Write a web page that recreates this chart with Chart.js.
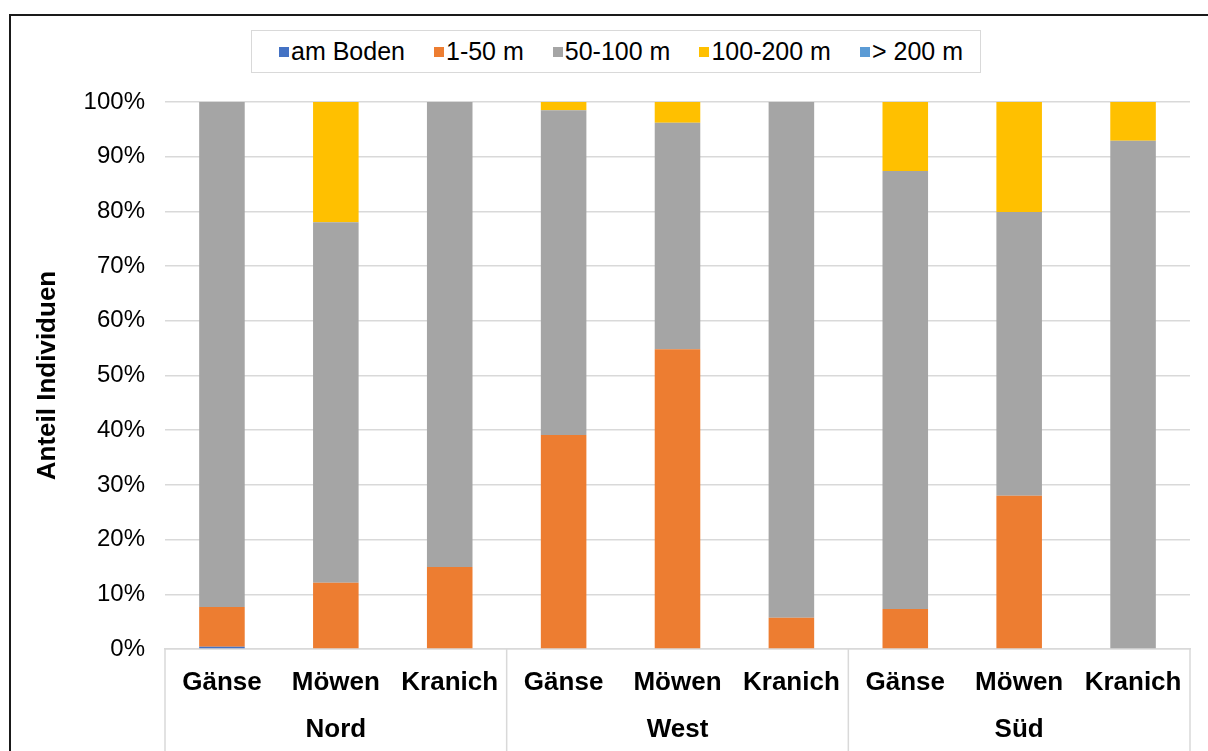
<!DOCTYPE html>
<html>
<head>
<meta charset="utf-8">
<script src="https://cdn.jsdelivr.net/npm/chart.js@4.4.1/dist/chart.umd.min.js"></script>
<style>
  html, body { margin: 0; padding: 0; background: #fff; }
  #wrap { position: relative; width: 1208px; height: 751px; overflow: hidden; font-family: "Liberation Sans", Arial, sans-serif; }
  #frame { position: absolute; left: 9px; top: 14px; width: 1300px; height: 900px; border-left: 2px solid #1a1a1a; border-top: 2px solid #1a1a1a; box-sizing: border-box; pointer-events: none; }
  #c { position: absolute; left: 0; top: 0; }
  #legend { position: absolute; left: 251px; top: 30px; width: 730px; height: 43px; box-sizing: border-box; border: 1.5px solid #d9d9d9; display: flex; align-items: center; justify-content: center; padding-left: 10px; background: #fff; }
  .item { display: flex; align-items: center; font-size: 25px; color: #000; margin-right: 29px; white-space: nowrap; }
  .item:last-child { margin-right: 0; }
  .sw { width: 10px; height: 10px; margin-right: 2px; display: inline-block; }
</style>
</head>
<body>
<div id="wrap">
  <canvas id="c" width="1208" height="751"></canvas>
  <div id="legend"></div>
  <div id="frame"></div>
</div>
<script>
// ---- Data ----
const categories = ["Gänse", "Möwen", "Kranich", "Gänse", "Möwen", "Kranich", "Gänse", "Möwen", "Kranich"];
const groups = ["Nord", "West", "Süd"];
const seriesNames = ["am Boden", "1-50 m", "50-100 m", "100-200 m", "> 200 m"];
const amBoden  = [0.4, 0, 0, 0, 0, 0, 0, 0, 0];
const m1to50   = [7.3, 12.1, 15.0, 39.1, 54.8, 5.7, 7.3, 28.0, 0];
const m50to100 = [92.3, 65.9, 85.0, 59.4, 41.4, 94.3, 80.1, 51.9, 92.9];
const m100to200 = [0, 22.0, 0, 1.5, 3.8, 0, 12.6, 20.1, 7.1];
const over200  = [0, 0, 0, 0, 0, 0, 0, 0, 0];
const yTicks = [0, 10, 20, 30, 40, 50, 60, 70, 80, 90, 100];
const colors = ["#4472C4", "#ED7D31", "#A5A5A5", "#FFC000", "#5B9BD5"];
const seriesValues = [amBoden, m1to50, m50to100, m100to200, over200];

const FONT = "'Liberation Sans', Arial, sans-serif";

// HTML legend
const leg = document.getElementById('legend');
seriesNames.forEach((n, i) => {
  const it = document.createElement('div');
  it.className = 'item';
  const sw = document.createElement('span');
  sw.className = 'sw';
  sw.style.background = colors[i];
  it.appendChild(sw);
  it.appendChild(document.createTextNode(n));
  leg.appendChild(it);
});

const groupLines = {
  id: 'groupLines',
  afterDraw(chart) {
    const xs = chart.scales.x;
    const ctx = chart.ctx;
    const top = chart.chartArea.bottom;
    const bottom = chart.height;
    const n = categories.length;
    const per = n / groups.length;
    const xsList = [xs.left];
    for (let g = 1; g < groups.length; g++) {
      const a = xs.getPixelForValue(g * per - 1);
      const b = xs.getPixelForValue(g * per);
      xsList.push((a + b) / 2);
    }
    xsList.push(xs.right);
    ctx.save();
    ctx.strokeStyle = '#d9d9d9';
    ctx.lineWidth = 1.5;
    ctx.beginPath();
    xsList.forEach(x => { ctx.moveTo(x, top); ctx.lineTo(x, bottom); });
    ctx.stroke();
    ctx.restore();
  }
};

new Chart(document.getElementById('c'), {
  type: 'bar',
  data: {
    labels: categories,
    datasets: seriesNames.map((n, i) => ({
      label: n,
      data: seriesValues[i],
      backgroundColor: colors[i],
      borderWidth: 0,
      barPercentage: 0.4,
      categoryPercentage: 1.0
    }))
  },
  options: {
    responsive: false,
    animation: false,
    devicePixelRatio: 1,
    layout: { padding: { top: 102, right: 18, bottom: 0, left: 0 } },
    plugins: { legend: { display: false }, tooltip: { enabled: false } },
    scales: {
      x: {
        stacked: true,
        offset: true,
        grid: { display: false, drawTicks: false },
        border: { display: true, color: '#d9d9d9', width: 1.5 },
        ticks: { font: { family: FONT, size: 26, weight: 'bold' }, color: '#000', padding: 18, maxRotation: 0, autoSkip: false },
        afterFit(s) { s.height = 54; }
      },
      x2: {
        type: 'category',
        labels: groups,
        position: 'bottom',
        offset: true,
        grid: { display: false, drawTicks: false },
        border: { display: false },
        ticks: { font: { family: FONT, size: 26, weight: 'bold' }, color: '#000', padding: 11, maxRotation: 0, autoSkip: false },
        afterFit(s) { s.height = 48; }
      },
      y: {
        stacked: true,
        min: 0,
        max: 100,
        afterBuildTicks(s) { s.ticks = yTicks.map(v => ({ value: v })); },
        grid: { color: '#d9d9d9', lineWidth: 1.5, drawTicks: false },
        border: { display: false },
        ticks: { font: { family: FONT, size: 24 }, color: '#000', padding: 20, callback: v => v + '%' },
        title: { display: true, text: 'Anteil Individuen', font: { family: FONT, size: 26, weight: 'bold' }, color: '#000', padding: { top: 32, bottom: 0 } },
        afterFit(s) { s.width = 165; }
      }
    }
  },
  plugins: [groupLines]
});
</script>
</body>
</html>
